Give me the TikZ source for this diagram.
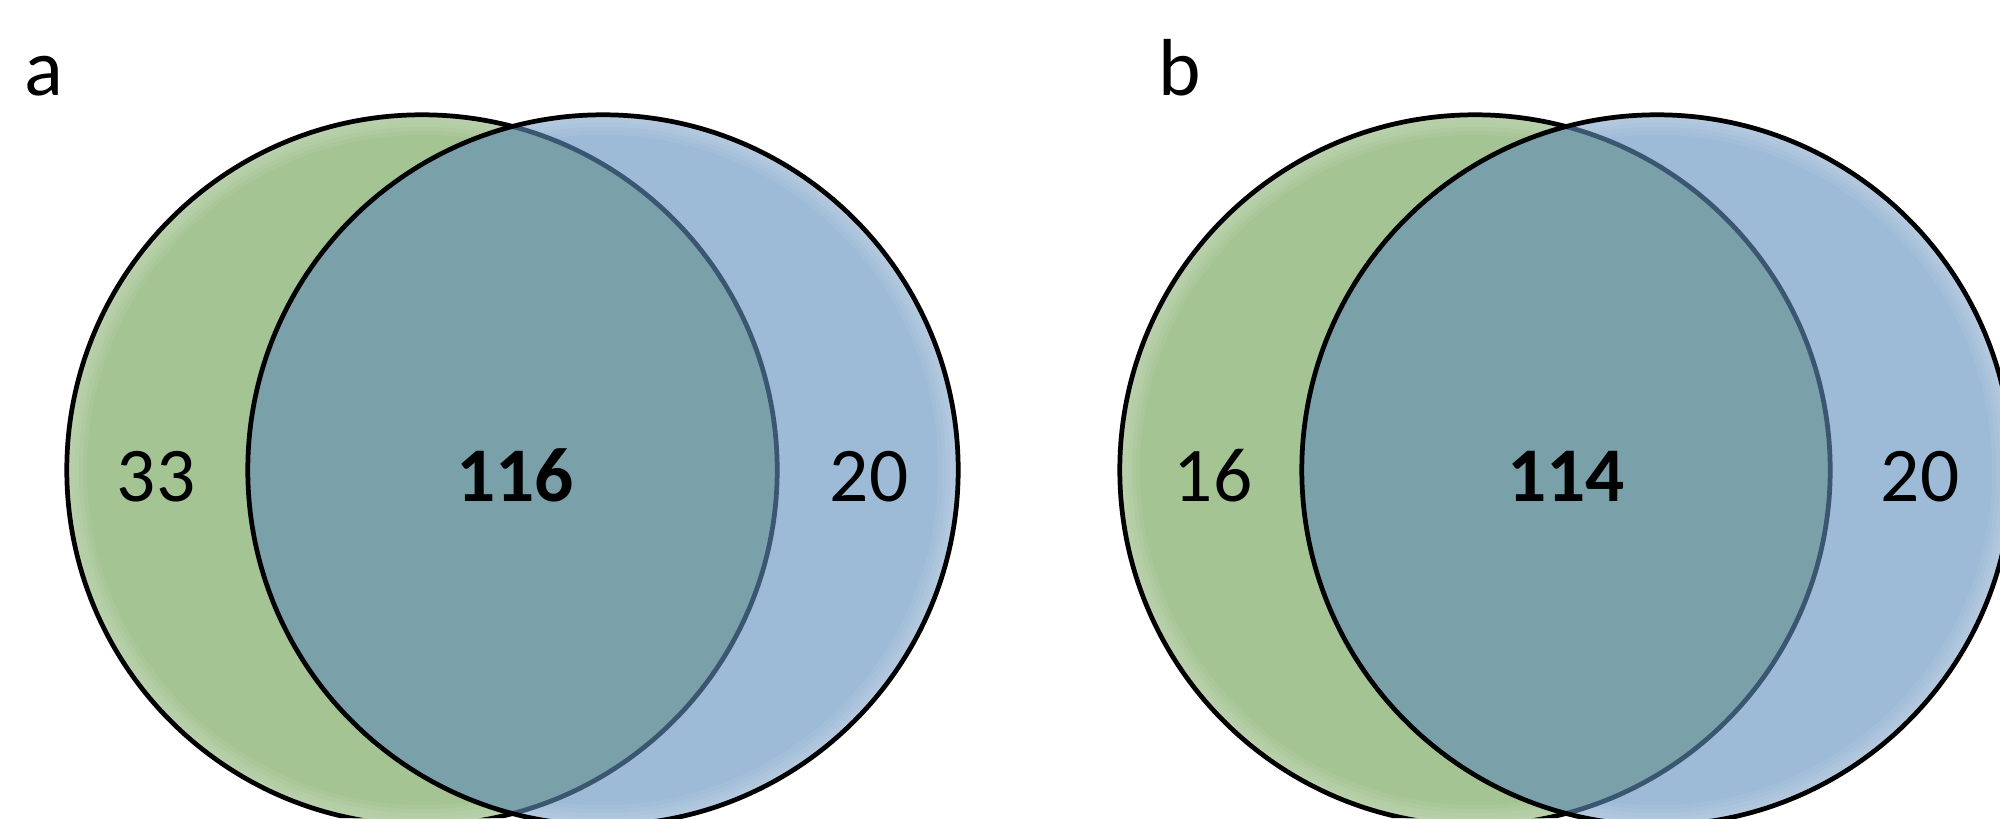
\documentclass[tikz,border=0pt]{standalone}
\usepackage{fontspec}
\setmainfont{Carlito}
\definecolor{vgreen}{HTML}{A5C494}
\definecolor{vblue}{HTML}{9DBAD6}
\definecolor{vover}{HTML}{7AA1A9}
\definecolor{vedge}{HTML}{3B5670}
\begin{document}
\begin{tikzpicture}[x=0.01cm,y=-0.01cm,
  ring/.style={line width=1.35pt},
  glow/.style={white,opacity=0.06},
  num/.style={font=\fontsize{22}{26}\selectfont, anchor=base, inner sep=0pt},
  numb/.style={num, font=\fontsize{22}{26}\selectfont\bfseries},
  panellabel/.style={font=\fontsize{23}{27}\selectfont, anchor=base, inner sep=0pt}]
\useasboundingbox (0,0) rectangle (2000,818);
\clip (0,0) rectangle (2000,818);
\foreach \gx/\bx/\l/\m/\r/\lx/\mx/\rx/\lab/\labx in
  {422/603/33/116/20/156/515/869/a/44, 1475/1657/16/114/20/1213/1566/1920/b/1180}{
  % green set
  \fill[vgreen] (\gx,470) circle[radius=3.55cm];
  \begin{scope}
    \clip (\gx,470) circle[radius=3.55cm];
    \foreach \w in {0.08,0.16,0.24,0.32,0.40}
      \draw[glow,line width=\w cm] (\gx,470) circle[radius=3.55cm];
  \end{scope}
  % blue set
  \fill[vblue] (\bx,470) circle[radius=3.55cm];
  \begin{scope}
    \clip (\bx,470) circle[radius=3.55cm];
    \foreach \w in {0.08,0.16,0.24,0.32,0.40}
      \draw[glow,line width=\w cm] (\bx,470) circle[radius=3.55cm];
  \end{scope}
  % overlap
  \begin{scope}
    \clip (\gx,470) circle[radius=3.55cm];
    \fill[vover] (\bx,470) circle[radius=3.55cm];
  \end{scope}
  % outlines
  \begin{scope}
    \clip (\bx,470) circle[radius=3.55cm];
    \draw[ring,vedge] (\gx,470) circle[radius=3.55cm];
  \end{scope}
  \begin{scope}[even odd rule]
    \clip (0,0) rectangle (2000,818) (\bx,470) circle[radius=3.55cm];
    \draw[ring] (\gx,470) circle[radius=3.55cm];
  \end{scope}
  \draw[ring] (\bx,470) circle[radius=3.55cm];
  % texts
  \node[panellabel] (lab\lab) at (\labx,95) {\lab};
  \node[num] (left\lab) at (\lx,501) {\l};
  \node[numb] (mid\lab) at (\mx,501) {\m};
  \node[num] (right\lab) at (\rx,501) {\r};
}
\end{tikzpicture}
\end{document}
